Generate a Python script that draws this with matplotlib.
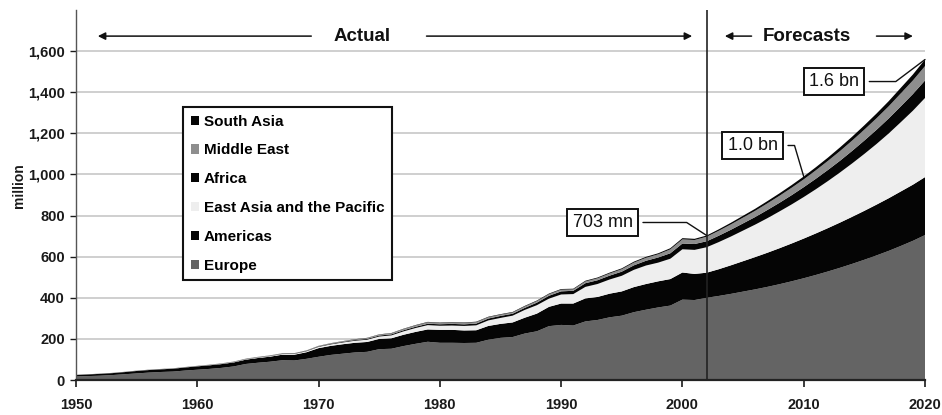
import matplotlib
matplotlib.use('Agg')
import matplotlib.pyplot as plt

plt.rcParams['font.family'] = ['Liberation Sans', 'DejaVu Sans']

years = list(range(1950, 2021))

europe = [17, 19, 21, 24, 28, 32, 36, 39, 41, 46,
          50, 54, 59, 66, 78, 84, 89, 96, 95, 103,
          113, 122, 128, 134, 137, 150, 152, 165, 176, 186,
          181, 181, 180, 181, 196, 205, 209, 226, 237, 262,
          268, 265, 285, 292, 305, 313, 330, 342, 353, 362,
          391, 389, 400, 409, 419, 430, 441, 453, 466, 480,
          495, 511, 528, 546, 565, 585, 606, 628, 652, 677, 705]

americas = [7.5, 8, 9, 9.5, 10.5, 12, 12.5, 13, 14, 15,
            16.5, 17.5, 18.5, 19.5, 21, 23, 24.5, 27, 28, 32,
            42, 44, 46, 47, 48, 50, 51, 55, 58, 60,
            63, 63, 61, 61, 67, 68, 71, 77, 86, 94,
            104, 107, 112, 112, 115, 118, 122, 125, 127, 129,
            132, 127, 122, 130, 139, 148, 157, 166, 175, 184,
            193, 202, 211, 220, 229, 238, 247, 256, 265, 273, 282]

east_asia_pacific = [0.2, 0.25, 0.3, 0.35, 0.4, 0.5, 0.55, 0.6, 0.7, 0.8,
                     0.9, 1.1, 1.3, 1.6, 2.0, 2.3, 2.8, 3.3, 3.8, 4.6,
                     6, 7, 8.5, 10, 11, 11.5, 14, 16.5, 19, 21,
                     20, 21, 22, 24, 27, 29, 33, 38, 41, 40,
                     44, 46, 56, 63, 69, 76, 84, 90, 91, 99,
                     113, 117, 124, 132, 140, 149, 158, 168, 179, 190,
                     202, 215, 229, 244, 260, 277, 295, 315, 337, 360, 385]

africa = [0.5, 0.5, 0.55, 0.6, 0.6, 0.65, 0.7, 0.7, 0.75, 0.75,
          0.8, 0.9, 1.0, 1.2, 1.3, 1.4, 1.6, 1.7, 1.9, 2.1,
          2.4, 2.8, 3.1, 3.5, 3.8, 4.7, 5.0, 5.4, 6.0, 6.6,
          7.2, 8.0, 7.8, 8.5, 9.0, 9.7, 9.4, 9.8, 12.3, 13.8,
          15.2, 16.0, 17.9, 18.3, 18.8, 20.1, 21.8, 23.2, 25.0, 26.5,
          28.0, 28.5, 29, 31, 33, 35, 37, 40, 42, 45,
          48, 51, 54, 57, 61, 65, 69, 73, 77, 81, 85]

middle_east = [0.2, 0.25, 0.28, 0.3, 0.35, 0.4, 0.4, 0.45, 0.5, 0.55,
               0.6, 0.8, 0.9, 1.0, 1.2, 1.4, 1.5, 1.4, 1.3, 1.6,
               1.9, 2.3, 2.6, 3.0, 4.0, 4.5, 5.0, 5.8, 6.5, 7.0,
               5.8, 6.1, 6.5, 6.8, 6.4, 6.1, 6.0, 7.0, 7.5, 7.8,
               8.2, 6.8, 8.5, 9.5, 10.5, 12.0, 13.5, 14.3, 15.4, 19.0,
               20.0, 19.5, 22, 24, 26, 28, 30, 32, 34, 36,
               38, 41, 44, 47, 50, 53, 56, 59, 63, 66, 70]

south_asia = [0.05, 0.05, 0.06, 0.07, 0.08, 0.1, 0.11, 0.12, 0.14, 0.17,
              0.2, 0.25, 0.3, 0.35, 0.4, 0.45, 0.5, 0.55, 0.6, 0.7,
              0.9, 1.0, 1.1, 1.2, 1.3, 1.4, 1.6, 1.8, 2.0, 2.2,
              2.3, 2.4, 2.4, 2.4, 2.5, 2.5, 2.7, 2.8, 2.9, 3.1,
              3.2, 3.3, 3.6, 3.8, 4.0, 4.2, 4.5, 4.8, 5.0, 5.5,
              6.1, 5.8, 6, 7, 8, 9, 10, 11, 12, 13,
              14, 15, 16, 18, 19, 21, 23, 25, 27, 29, 32]

region_names = ['Europe', 'Americas', 'East Asia and the Pacific',
                'Africa', 'Middle East', 'South Asia']
region_colors = ['#646464', '#050505', '#eeeeee', '#050505', '#8e8e8e', '#050505']

y_ticks = [0, 200, 400, 600, 800, 1000, 1200, 1400, 1600]
x_ticks = [1950, 1960, 1970, 1980, 1990, 2000, 2010, 2020]
forecast_start = 2002

callout_texts = ['703 mn', '1.0 bn', '1.6 bn']
callout_years = [2002, 2010, 2020]

fig = plt.figure(figsize=(9.42, 4.15), dpi=100)
ax = fig.add_axes([76 / 942, 35 / 415, 849 / 942, 370 / 415])

series = [europe, americas, east_asia_pacific, africa, middle_east, south_asia]
polys = ax.stackplot(years, *series, colors=region_colors, labels=region_names,
                     linewidth=0, zorder=2)

ax.set_xlim(1950, 2020)
ax.set_ylim(0, 1800)
ax.set_yticks(y_ticks)
ax.set_yticklabels([f'{v:,}' for v in y_ticks])
ax.set_xticks(x_ticks)
ax.set_xticklabels([str(v) for v in x_ticks])

ax.grid(axis='y', color='#cccccc', linewidth=1.3)
ax.grid(axis='x', visible=False)
ax.set_axisbelow(True)

for s in ['top', 'right']:
    ax.spines[s].set_visible(False)
ax.spines['left'].set_color('#555555')
ax.spines['left'].set_linewidth(1.0)
ax.spines['bottom'].set_color('#222222')
ax.spines['bottom'].set_linewidth(1.6)

ax.tick_params(axis='x', direction='out', length=5, width=1.2, pad=8,
               labelsize=10.5, colors='#1a1a1a')
ax.tick_params(axis='y', direction='out', length=4, width=1.0, pad=4,
               labelsize=10.5, colors='#1a1a1a')
for lab in ax.get_xticklabels() + ax.get_yticklabels():
    lab.set_fontweight('bold')

ax.set_ylabel('million', fontsize=10, fontweight='bold', color='#1a1a1a')
ax.yaxis.set_label_coords(-0.059, 0.524)

ax.axvline(forecast_start, color='#222222', linewidth=1.2, zorder=4)

# Actual / Forecasts headers with arrows
arrow_y = 1673
arrow_kw = dict(arrowstyle='-|>', color='#111111', lw=1.1, mutation_scale=11,
                shrinkA=0, shrinkB=0)
ax.annotate('', xy=(1951.8, arrow_y), xytext=(1969.4, arrow_y), arrowprops=arrow_kw)
ax.annotate('', xy=(2000.8, arrow_y), xytext=(1978.9, arrow_y), arrowprops=arrow_kw)
ax.text(1973.6, arrow_y, 'Actual', ha='center', va='center', fontsize=13.5,
        fontweight='bold', color='#111111')
ax.annotate('', xy=(2003.5, arrow_y), xytext=(2005.7, arrow_y), arrowprops=arrow_kw)
ax.annotate('', xy=(2019.0, arrow_y), xytext=(2016.0, arrow_y), arrowprops=arrow_kw)
ax.text(2010.3, arrow_y, 'Forecasts', ha='center', va='center', fontsize=13.5,
        fontweight='bold', color='#111111')

# Callouts
offsets = [(-104, 13), (-51, 31), (-91, -22)]
angles = [-33, -73.5, 37]
for txt, yr, off, ang in zip(callout_texts, callout_years, offsets, angles):
    i = years.index(yr)
    total = sum(s[i] for s in series)
    ax.annotate(txt, xy=(yr, total), xytext=off, textcoords='offset pixels',
                ha='center', va='center', fontsize=13, color='#111111',
                annotation_clip=False, zorder=6,
                bbox=dict(boxstyle='square,pad=0.3', fc='white', ec='#111111', lw=1.4),
                arrowprops=dict(arrowstyle='-', color='#111111', lw=1.0,
                                connectionstyle=f'angle,angleA=0,angleB={ang},rad=0',
                                shrinkA=3, shrinkB=0))

handles = polys[::-1]
labels = region_names[::-1]
leg = ax.legend(handles, labels, loc='upper left',
                bbox_to_anchor=(183 / 942, 1 - 107 / 415),
                bbox_transform=fig.transFigure, borderaxespad=0,
                frameon=True, fancybox=False, edgecolor='#111111', framealpha=1,
                prop=dict(weight='bold', size=11),
                handlelength=0.55, handleheight=0.55, handletextpad=0.3,
                labelspacing=0.97, borderpad=0.5)
leg.get_frame().set_linewidth(1.5)
leg.set_zorder(7)

fig.savefig('out.png', dpi=100, facecolor='white')
